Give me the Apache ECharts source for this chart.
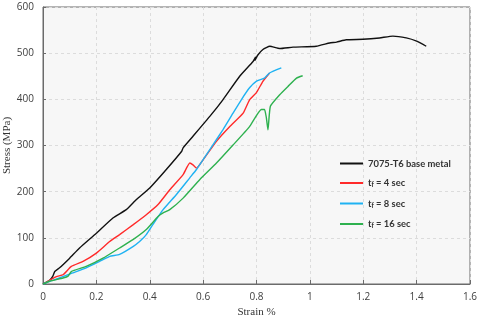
<!DOCTYPE html>
<html>
<head>
<meta charset="utf-8">
<script src="https://cdn.jsdelivr.net/npm/echarts@6/dist/echarts.min.js"></script>
<style>
  html, body { margin: 0; padding: 0; background: #fff; }
  #chart { width: 480px; height: 322px; }
</style>
</head>
<body>
<div id="chart"></div>
<script>
// strain (%) and stress (MPa)
const baseStrain = [0, 0.025, 0.037, 0.044, 0.062, 0.1, 0.137, 0.2, 0.262, 0.312, 0.35, 0.4, 0.462, 0.519, 0.525, 0.562, 0.625, 0.674, 0.737, 0.787, 0.797, 0.794, 0.805, 0.824, 0.85, 0.887, 0.937, 1.024, 1.074, 1.1, 1.136, 1.199, 1.261, 1.311, 1.361, 1.4, 1.436]
const baseStress = [0, 8, 17, 27, 35, 56, 78, 110, 143, 161, 183, 208, 248, 287, 295, 320, 363, 399, 450, 482, 492, 484, 496, 508, 515, 510, 513, 515, 522, 524, 529, 530, 533, 537, 533, 526, 515]

const t4Strain = [0, 0.05, 0.075, 0.106, 0.15, 0.2, 0.25, 0.287, 0.337, 0.387, 0.431, 0.475, 0.525, 0.55, 0.562, 0.575, 0.6, 0.65, 0.7, 0.75, 0.774, 0.799, 0.824, 0.849]
const t4Stress = [0, 16, 20, 38, 49, 67, 92, 107, 128, 150, 172, 204, 237, 262, 258, 251, 269, 309, 341, 370, 399, 414, 439, 457]

const t8Strain = [0, 0.025, 0.062, 0.112, 0.162, 0.212, 0.25, 0.287, 0.337, 0.362, 0.387, 0.412, 0.45, 0.5, 0.55, 0.575, 0.625, 0.674, 0.712, 0.743, 0.774, 0.799, 0.83, 0.849, 0.893]
const t8Stress = [0, 6, 13, 24, 35, 49, 60, 64, 81, 92, 107, 129, 161, 194, 230, 248, 291, 334, 370, 399, 425, 439, 446, 457, 468]

const t16Strain = [0, 0.025, 0.075, 0.094, 0.106, 0.162, 0.225, 0.287, 0.337, 0.387, 0.431, 0.45, 0.475, 0.525, 0.587, 0.65, 0.712, 0.774, 0.818, 0.83, 0.837, 0.843, 0.852, 0.887, 0.918, 0.95, 0.973]
const t16Stress = [0, 6, 13, 17, 27, 38, 56, 78, 96, 118, 146, 154, 161, 186, 226, 262, 301, 341, 378, 378, 360, 334, 385, 410, 428, 446, 451]

const seriesNames = ['7075-T6 base metal', 't4', 't8', 't16']
const legendLabels = {
  '7075-T6 base metal': '{t|7075-T6 base metal}',
  t4: '{t|t}{s|f}{t| = 4 sec}',
  t8: '{t|t}{s|f}{t| = 8 sec}',
  t16: '{t|t}{s|f}{t| = 16 sec}'
}

function pairs(xs, ys) {
  return xs.map((x, i) => [x, ys[i]])
}

const chart = echarts.init(document.getElementById('chart'))

function makeLine(name, xs, ys, color) {
  return {
    name: name,
    type: 'line',
    data: pairs(xs, ys),
    showSymbol: false,
    symbol: 'none',
    smooth: 0.15,
    lineStyle: { color: color, width: 1.4 },
    itemStyle: { color: color },
    z: 3
  }
}

const option = {
  animation: false,
  grid: {
    left: 43,
    right: 10,
    top: 7,
    bottom: 38,
    outerBoundsMode: 'none',
    containLabel: false,
    show: true,
    backgroundColor: '#f7f7f7',
    borderColor: '#6b6b6b',
    borderWidth: 1
  },
  legend: {
    orient: 'vertical',
    left: 340,
    top: 159,
    padding: 0,
    icon: 'rect',
    itemWidth: 23,
    itemHeight: 2,
    itemGap: 10.5,
    data: seriesNames,
    formatter: name => legendLabels[name],
    textStyle: {
      rich: {
        t: { fontFamily: 'Lato', fontWeight: 'bold', fontSize: 9.4, color: '#333', lineHeight: 11 },
        s: { fontFamily: 'Lato', fontWeight: 'bold', fontSize: 6.5, color: '#333', verticalAlign: 'bottom', padding: [4, 0, 0, 0] }
      }
    }
  },
  xAxis: {
    type: 'value',
    min: 0,
    max: 1.6,
    interval: 0.2,
    name: 'Strain %',
    nameLocation: 'middle',
    nameGap: 23,
    nameMoveOverlap: false,
    nameTextStyle: { fontFamily: 'Liberation Serif', fontSize: 11, color: '#333' },
    axisLine: { show: true, lineStyle: { color: '#6b6b6b' } },
    axisTick: { show: true, inside: true, length: 4, lineStyle: { color: '#6b6b6b' } },
    axisLabel: {
      color: '#404040',
      fontFamily: 'Open Sans',
      fontSize: 10,
      margin: 8,
      formatter: v => String(+v.toFixed(1))
    },
    splitLine: { show: true, lineStyle: { color: '#dcdcdc', type: [3, 3] } }
  },
  yAxis: {
    type: 'value',
    min: 0,
    max: 600,
    interval: 100,
    name: 'Stress (MPa)',
    nameLocation: 'middle',
    nameGap: 30,
    nameMoveOverlap: false,
    nameTextStyle: { fontFamily: 'Liberation Serif', fontSize: 11, color: '#333' },
    axisLine: { show: true, lineStyle: { color: '#6b6b6b' } },
    axisTick: { show: true, inside: true, length: 3, lineStyle: { color: '#6b6b6b' } },
    axisLabel: { color: '#404040', fontFamily: 'Open Sans', fontSize: 10, margin: 9 },
    splitLine: { show: true, lineStyle: { color: '#dcdcdc', type: [3, 3] } }
  },
  series: [
    makeLine(seriesNames[0], baseStrain, baseStress, '#111111'),
    makeLine(seriesNames[1], t4Strain, t4Stress, '#ff2a2a'),
    makeLine(seriesNames[2], t8Strain, t8Stress, '#1fb2f2'),
    makeLine(seriesNames[3], t16Strain, t16Stress, '#2eb14f')
  ]
}

chart.setOption(option)
</script>
</body>
</html>
